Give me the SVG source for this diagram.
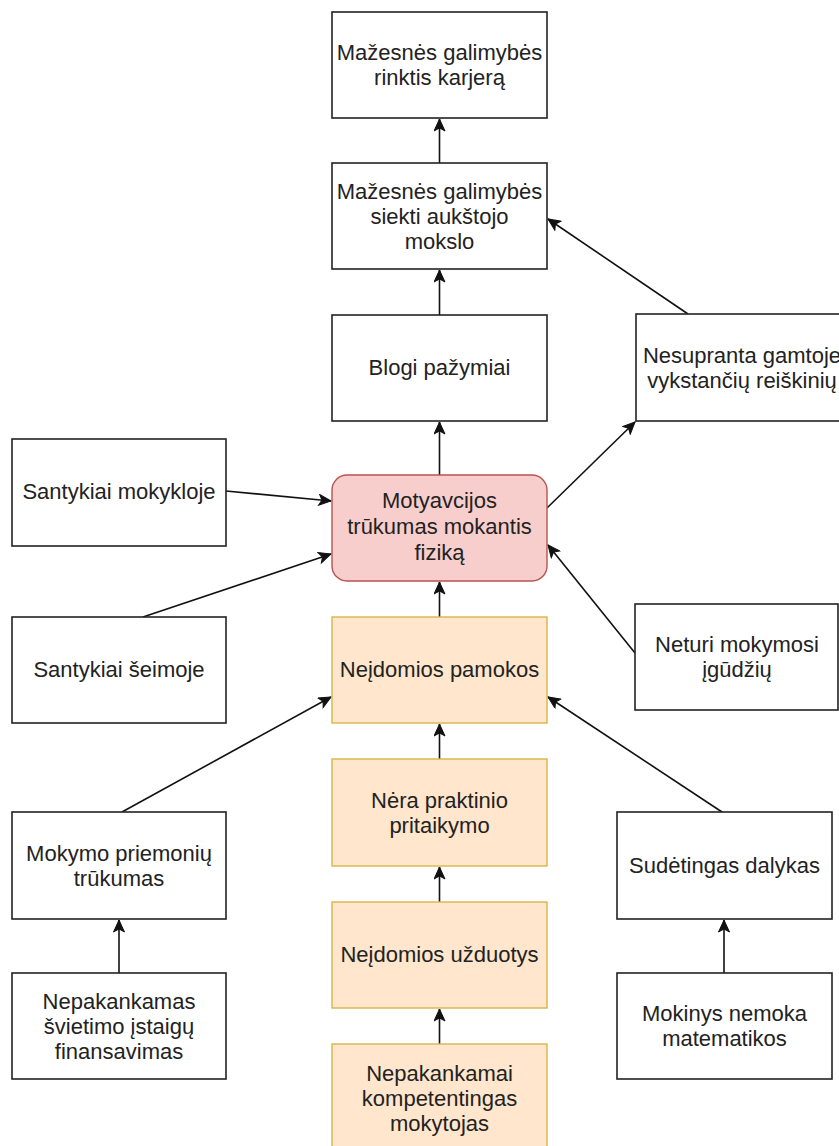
<svg xmlns="http://www.w3.org/2000/svg" width="839" height="1146" viewBox="0 0 839 1146">
  <defs>
    <marker id="arrow" viewBox="-13 -6 14 12" refX="0" refY="0" markerWidth="14" markerHeight="12" markerUnits="userSpaceOnUse" orient="auto">
      <path d="M0,0 L-12,-5.5 L-9,0 L-12,5.5 Z" fill="#111" stroke="#111" stroke-width="1" stroke-linejoin="miter"/>
    </marker>
    <style>
      .box { fill: #ffffff; stroke: #222222; stroke-width: 1.6; }
      .pink { fill: #f8cecc; stroke: #b85450; stroke-width: 1.4; }
      .peach { fill: #ffe6cc; stroke: #d9b44a; stroke-width: 1.4; }
      text { font-family: "Liberation Sans", Arial, sans-serif; font-size: 22px; fill: #222222; text-anchor: middle; }
      .edge { stroke: #111111; stroke-width: 1.6; fill: none; marker-end: url(#arrow); }
    </style>
  </defs>

  <rect width="839" height="1146" fill="#ffffff"/>

  <!-- connectors -->
  <g id="connectors">
    <line class="edge" x1="439.5" y1="163" x2="439.5" y2="119"/>
    <line class="edge" x1="439.5" y1="315" x2="439.5" y2="270"/>
    <line class="edge" x1="439.5" y1="475" x2="439.5" y2="422"/>
    <line class="edge" x1="439.5" y1="617" x2="439.5" y2="582"/>
    <line class="edge" x1="439.5" y1="759" x2="439.5" y2="724"/>
    <line class="edge" x1="439.5" y1="902" x2="439.5" y2="867"/>
    <line class="edge" x1="439.5" y1="1044" x2="439.5" y2="1009"/>
    <line class="edge" x1="688" y1="314" x2="548" y2="219"/>
    <line class="edge" x1="547" y1="508" x2="635" y2="422"/>
    <line class="edge" x1="635" y1="653" x2="548" y2="545"/>
    <line class="edge" x1="226" y1="491" x2="331" y2="501"/>
    <line class="edge" x1="143" y1="617" x2="331" y2="554"/>
    <line class="edge" x1="122" y1="812" x2="331" y2="697"/>
    <line class="edge" x1="722" y1="812" x2="548" y2="697"/>
    <line class="edge" x1="119" y1="973" x2="119" y2="920"/>
    <line class="edge" x1="724" y1="973" x2="724" y2="920"/>
  </g>

  <!-- central chain -->
  <g id="career">
    <rect class="box" x="332" y="12" width="215" height="106"/>
    <text x="439.5" y="60">Mažesnės galimybės</text>
    <text x="439.5" y="85">rinktis karjerą</text>
  </g>
  <g id="higher-education">
    <rect class="box" x="332" y="163" width="215" height="106"/>
    <text x="439.5" y="199">Mažesnės galimybės</text>
    <text x="439.5" y="224">siekti aukštojo</text>
    <text x="439.5" y="249">mokslo</text>
  </g>
  <g id="bad-grades">
    <rect class="box" x="332" y="315" width="215" height="106"/>
    <text x="439.5" y="375">Blogi pažymiai</text>
  </g>
  <g id="motivation">
    <rect class="pink" x="332" y="475" width="215" height="106" rx="15" ry="15"/>
    <text x="439.5" y="508">Motyavcijos</text>
    <text x="439.5" y="534">trūkumas mokantis</text>
    <text x="439.5" y="560">fiziką</text>
  </g>
  <g id="boring-lessons">
    <rect class="peach" x="332" y="617" width="215" height="106"/>
    <text x="439.5" y="677">Neįdomios pamokos</text>
  </g>
  <g id="no-practice">
    <rect class="peach" x="332" y="759" width="215" height="107"/>
    <text x="439.5" y="808">Nėra praktinio</text>
    <text x="439.5" y="833">pritaikymo</text>
  </g>
  <g id="boring-tasks">
    <rect class="peach" x="332" y="902" width="215" height="106"/>
    <text x="439.5" y="962">Neįdomios užduotys</text>
  </g>
  <g id="teacher">
    <rect class="peach" x="332" y="1044" width="215" height="108"/>
    <text x="439.5" y="1081">Nepakankamai</text>
    <text x="439.5" y="1106">kompetentingas</text>
    <text x="439.5" y="1131">mokytojas</text>
  </g>

  <!-- left column -->
  <g id="school-relations">
    <rect class="box" x="12" y="439" width="214" height="107"/>
    <text x="119" y="499">Santykiai mokykloje</text>
  </g>
  <g id="family-relations">
    <rect class="box" x="12" y="617" width="214" height="106"/>
    <text x="119" y="677">Santykiai šeimoje</text>
  </g>
  <g id="teaching-aids">
    <rect class="box" x="12" y="812" width="214" height="107"/>
    <text x="119" y="861">Mokymo priemonių</text>
    <text x="119" y="886">trūkumas</text>
  </g>
  <g id="funding">
    <rect class="box" x="12" y="973" width="214" height="106"/>
    <text x="119" y="1009">Nepakankamas</text>
    <text x="119" y="1034">švietimo įstaigų</text>
    <text x="119" y="1059">finansavimas</text>
  </g>

  <!-- right column -->
  <g id="nature-phenomena">
    <rect class="box" x="636" y="314" width="212" height="107"/>
    <text x="742" y="363">Nesupranta gamtoje</text>
    <text x="742" y="388">vykstančių reiškinių</text>
  </g>
  <g id="study-skills">
    <rect class="box" x="635" y="604" width="203" height="106"/>
    <text x="737" y="652">Neturi mokymosi</text>
    <text x="737" y="677">įgūdžių</text>
  </g>
  <g id="hard-subject">
    <rect class="box" x="617" y="812" width="215" height="107"/>
    <text x="724.5" y="873">Sudėtingas dalykas</text>
  </g>
  <g id="maths">
    <rect class="box" x="617" y="973" width="215" height="106"/>
    <text x="724.5" y="1021">Mokinys nemoka</text>
    <text x="724.5" y="1046">matematikos</text>
  </g>
</svg>
